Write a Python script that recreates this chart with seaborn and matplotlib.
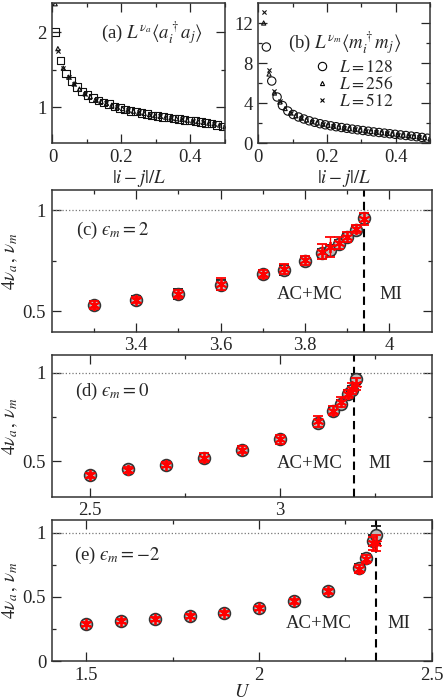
import numpy as np
import pandas as pd
import matplotlib
matplotlib.use('Agg')
import matplotlib.pyplot as plt
from matplotlib.lines import Line2D
import seaborn as sns

# ---- panel (a): L^nu_a <a_i^+ a_j> ----
xa_128 = [0.0078, 0.0234, 0.0391, 0.0547, 0.0703, 0.0859, 0.1016, 0.1172, 0.1328, 0.1484, 0.1641,
          0.1797, 0.1953, 0.2109, 0.2266, 0.2422, 0.2578, 0.2734, 0.2891, 0.3047, 0.3203, 0.3359,
          0.3516, 0.3672, 0.3828, 0.3984, 0.4141, 0.4297, 0.4453, 0.4609, 0.4766, 0.4922]
ya_128 = [2.00, 1.62, 1.45, 1.35, 1.27, 1.21, 1.16, 1.12, 1.09, 1.06, 1.04,
          1.01, 0.99, 0.97, 0.95, 0.94, 0.92, 0.91, 0.89, 0.88, 0.87, 0.86,
          0.85, 0.84, 0.83, 0.82, 0.81, 0.80, 0.79, 0.78, 0.76, 0.74]
xa_256 = [0.0078, 0.0156, 0.0313, 0.0469, 0.0625, 0.0781, 0.0938, 0.1094, 0.125, 0.1406, 0.1563,
          0.1719, 0.1875, 0.2031, 0.2188, 0.2344, 0.25, 0.2656, 0.2813, 0.2969, 0.3125, 0.3281,
          0.3438, 0.3594, 0.375, 0.3906, 0.4063, 0.4219, 0.4375, 0.4531, 0.4688, 0.4844, 0.5]
ya_256 = [2.38, 1.78, 1.52, 1.40, 1.31, 1.24, 1.18, 1.14, 1.10, 1.075, 1.05,
          1.025, 1.00, 0.98, 0.96, 0.945, 0.93, 0.915, 0.90, 0.885, 0.875, 0.865,
          0.855, 0.845, 0.835, 0.825, 0.815, 0.805, 0.795, 0.785, 0.775, 0.76, 0.74]
xa_512 = [0.0156, 0.0313, 0.0469, 0.0625, 0.0938, 0.125, 0.1563, 0.1875, 0.2188, 0.25, 0.2813,
          0.3125, 0.3438, 0.375, 0.4063, 0.4375, 0.4688, 0.5]
ya_512 = [1.75, 1.52, 1.40, 1.31, 1.18, 1.10, 1.05, 1.00, 0.96, 0.93, 0.90,
          0.875, 0.855, 0.835, 0.815, 0.795, 0.775, 0.74]

# ---- panel (b): L^nu_m <m_i^+ m_j> ----
xb_128 = xa_128[1:]
yb_128 = [9.6, 6.2, 4.6, 3.75, 3.2, 2.85, 2.6, 2.4, 2.22, 2.07,
          1.93, 1.82, 1.72, 1.63, 1.55, 1.47, 1.39, 1.32, 1.25, 1.18, 1.11,
          1.05, 0.99, 0.93, 0.87, 0.81, 0.75, 0.69, 0.63, 0.56, 0.48]
xb_256 = xa_256[1:]
yb_256 = [12.0, 6.9, 5.0, 4.1, 3.45, 3.0, 2.72, 2.5, 2.3, 2.15,
          2.0, 1.88, 1.77, 1.68, 1.59, 1.51, 1.43, 1.36, 1.29, 1.22, 1.15,
          1.08, 1.02, 0.96, 0.90, 0.84, 0.78, 0.72, 0.66, 0.60, 0.53, 0.45]
xb_512 = xa_512
yb_512 = [13.1, 7.3, 5.2, 4.2, 3.0, 2.5, 2.15, 1.88, 1.68, 1.51, 1.36,
          1.22, 1.08, 0.96, 0.84, 0.72, 0.60, 0.45]

# ---- panels (c)-(e): 4 nu_a (black circles) and nu_m (red) vs U ----
U_c = [3.3, 3.4, 3.5, 3.6, 3.7, 3.75, 3.8, 3.84, 3.86, 3.88, 3.9, 3.92, 3.94]
na_c = [0.530, 0.556, 0.586, 0.632, 0.683, 0.703, 0.748, 0.790, 0.805, 0.835, 0.868, 0.903, 0.962]
na_c_err = [0.02, 0.02, 0.025, 0.025, 0.02, 0.025, 0.02, 0.02, 0.025, 0.02, 0.02, 0.02, 0.02]
nm_c = [0.532, 0.558, 0.588, 0.635, 0.683, 0.708, 0.752, 0.796, 0.818, 0.838, 0.870, 0.906, 0.958]
nm_c_err = [0.02, 0.015, 0.02, 0.03, 0.02, 0.025, 0.02, 0.035, 0.05, 0.03, 0.025, 0.02, 0.03]

U_d = [2.5, 2.6, 2.7, 2.8, 2.9, 3.0, 3.1, 3.14, 3.16, 3.18, 3.19, 3.2]
na_d = [0.42, 0.455, 0.48, 0.52, 0.565, 0.625, 0.715, 0.785, 0.825, 0.88, 0.905, 0.965]
na_d_err = [0.015, 0.015, 0.015, 0.02, 0.02, 0.02, 0.02, 0.02, 0.02, 0.02, 0.02, 0.03]
nm_d = [0.42, 0.45, 0.48, 0.52, 0.565, 0.625, 0.725, 0.785, 0.835, 0.88, 0.91, 0.935]
nm_d_err = [0.015, 0.015, 0.015, 0.025, 0.02, 0.025, 0.03, 0.025, 0.03, 0.025, 0.03, 0.035]

U_e = [1.5, 1.6, 1.7, 1.8, 1.9, 2.0, 2.1, 2.2, 2.29, 2.31, 2.33, 2.34]
na_e = [0.292, 0.31, 0.33, 0.35, 0.376, 0.415, 0.465, 0.545, 0.725, 0.805, 0.94, 0.98]
na_e_err = [0.015, 0.015, 0.015, 0.015, 0.015, 0.015, 0.02, 0.02, 0.03, 0.03, 0.04, 0.07]
nm_e = [0.292, 0.31, 0.33, 0.35, 0.376, 0.415, 0.465, 0.545, 0.72, 0.795, 0.92, 0.92]
nm_e_err = [0.015, 0.015, 0.015, 0.015, 0.015, 0.015, 0.02, 0.02, 0.03, 0.03, 0.05, 0.06]

Uc_list = [3.94, 3.195, 2.34]
labels_low = ['(c) $\u03f5_m = 2$', '(d) $\u03f5_m = 0$', '(e) $\u03f5_m = -2$']

sns.set_style('ticks')
plt.rcParams['font.family'] = ['Liberation Serif', 'DejaVu Serif']
plt.rcParams['mathtext.fontset'] = 'stix'
plt.rcParams['font.size'] = 13.5

fig = plt.figure(figsize=(4.43, 7.0), dpi=100)


def style_axes(ax):
    ax.tick_params(which='both', direction='in', top=True, right=True, labelsize=13.5, pad=4)
    ax.tick_params(which='major', length=6.5, width=0.9)
    ax.tick_params(which='minor', length=3, width=0.9)
    for sp in ax.spines.values():
        sp.set_linewidth(1.1)
        sp.set_color('#333333')


def open_scatter(ax, x, y, marker, size, lw=0.8):
    sns.scatterplot(x=x, y=y, ax=ax, marker=marker, s=size, color='k', linewidth=lw, legend=False)
    coll = ax.collections[-1]
    if marker != 'x':
        coll.set_facecolor('none')
    coll.set_edgecolor('#111111')


# (a)
ax_a = fig.add_axes([0.1185, 0.7957, 0.3894, 0.2])
open_scatter(ax_a, xa_128, ya_128, 's', 30)
open_scatter(ax_a, xa_256, ya_256, '^', 9)
open_scatter(ax_a, xa_512, ya_512, 'x', 9)
ax_a.set_xlim(0, 0.5)
ax_a.set_ylim(0.52, 2.39)
ax_a.set_xticks([0, 0.2, 0.4])
ax_a.set_xticklabels(['0', '0.2', '0.4'])
ax_a.set_xticks([0.1, 0.3, 0.5], minor=True)
ax_a.set_yticks([1, 2])
ax_a.set_yticks([1.5], minor=True)
ax_a.set_xlabel(r'$|i - j|/L$', fontsize=13.5, labelpad=2)
ax_a.set_ylabel('')
ax_a.text(0.577, 0.786, r'(a) $L^{\nu_a}\langle a_i^\dagger a_j\rangle$', transform=ax_a.transAxes,
          ha='center', va='center', fontsize=13.5)
style_axes(ax_a)

# (b)
ax_b = fig.add_axes([0.5831, 0.7957, 0.3876, 0.2])
open_scatter(ax_b, xb_128, yb_128, 'o', 36)
open_scatter(ax_b, xb_256, yb_256, '^', 9)
open_scatter(ax_b, xb_512, yb_512, 'x', 9)
ax_b.set_xlim(0, 0.5)
ax_b.set_ylim(0, 14)
ax_b.set_xticks([0, 0.2, 0.4])
ax_b.set_xticklabels(['0', '0.2', '0.4'])
ax_b.set_xticks([0.1, 0.3, 0.5], minor=True)
ax_b.set_yticks([0, 4, 8, 12])
ax_b.set_yticks([2, 6, 10], minor=True)
ax_b.set_xlabel(r'$|i - j|/L$', fontsize=13.5, labelpad=2)
ax_b.set_ylabel('')
ax_b.text(0.505, 0.714, r'(b) $L^{\nu_m}\langle m_i^\dagger m_j\rangle$', transform=ax_b.transAxes,
          ha='center', va='center', fontsize=13.5)
handles = [
    Line2D([], [], ls='none', marker='o', ms=6, mfc='none', mec='k', mew=0.8),
    Line2D([], [], ls='none', marker='^', ms=3, mfc='none', mec='k', mew=0.8),
    Line2D([], [], ls='none', marker='x', ms=3, color='k', mew=0.8),
]
ax_b.legend(handles, [r'$L = 128$', r'$L = 256$', r'$L = 512$'], loc='upper left',
            bbox_to_anchor=(0.25, 0.655), frameon=False, fontsize=12.5, labelspacing=0.0,
            handletextpad=0.3, handlelength=1.4, borderpad=0)
style_axes(ax_b)

# (c)-(e)
low_rects = [[0.1167, 0.5261, 0.8578, 0.2024],
             [0.1167, 0.2904, 0.8578, 0.2024],
             [0.1167, 0.0557, 0.8578, 0.2014]]
low_data = [(U_c, na_c, na_c_err, nm_c, nm_c_err),
            (U_d, na_d, na_d_err, nm_d, nm_d_err),
            (U_e, na_e, na_e_err, nm_e, nm_e_err)]
xlims = [(3.2, 4.1), (2.4, 3.4), (1.4, 2.5)]
ylims = [(0.4, 1.1), (0.3, 1.1), (0, 1.1)]
xmaj = [[3.4, 3.6, 3.8, 4.0], [2.5, 3.0], [1.5, 2.0, 2.5]]
xmaj_lbl = [['3.4', '3.6', '3.8', '4'], ['2.5', '3'], ['1.5', '2', '2.5']]
xmin = [[3.3, 3.5, 3.7, 3.9], [2.75, 3.25], [1.75, 2.25]]
ymaj = [[0.5, 1.0], [0.5, 1.0], [0, 0.5, 1.0]]
ymaj_lbl = [['0.5', '1'], ['0.5', '1'], ['0', '0.5', '1']]
ymin = [[0.75], [0.75], [0.25, 0.75]]
acmc_pos = [(3.811, 0.584), (3.08, 0.487), (2.172, 0.29)]
mi_pos = [(4.004, 0.584), (3.263, 0.487), (2.406, 0.29)]
lbl_pos = [(0.064, 0.713), (0.061, 0.741), (0.059, 0.752)]

for i in range(3):
    ax = fig.add_axes(low_rects[i])
    U, na, na_err, nm, nm_err = low_data[i]
    ax.axhline(1.0, color='#777777', ls=':', lw=0.9, zorder=1)
    ax.axvline(Uc_list[i], color='k', ls='--', lw=1.5, dashes=(4, 2.5), zorder=2)
    ax.errorbar(U, na, yerr=na_err, ls='none', marker='o', ms=8.5, mfc='#bbbbbb', mec='#333333',
                mew=1.2, ecolor='k', elinewidth=1.0, capsize=3.5, capthick=1.0, zorder=3)
    ax.errorbar(U, nm, yerr=nm_err, ls='none', marker=(6, 2, 0), ms=8, color='red',
                mew=1.3, ecolor='red', elinewidth=1.0, capsize=3.5, capthick=1.0, zorder=4)
    ax.set_xlim(*xlims[i])
    ax.set_ylim(*ylims[i])
    ax.set_xticks(xmaj[i])
    ax.set_xticklabels(xmaj_lbl[i])
    ax.set_xticks(xmin[i], minor=True)
    ax.set_yticks(ymaj[i])
    ax.set_yticklabels(ymaj_lbl[i])
    ax.set_yticks(ymin[i], minor=True)
    ax.set_ylabel(r'$4\nu_a\,,\,\nu_m$', fontsize=13.5)
    ax.yaxis.set_label_coords(-0.083, 0.5)
    ax.text(*acmc_pos[i], 'AC+MC', ha='center', va='center', fontsize=13.5)
    ax.text(*mi_pos[i], 'MI', ha='center', va='center', fontsize=13.5)
    ax.text(*lbl_pos[i], labels_low[i], transform=ax.transAxes, ha='left', va='center',
            fontsize=13.5)
    style_axes(ax)
    if i == 2:
        ax.set_xlabel(r'$U$', fontsize=13.5, labelpad=0)

fig.savefig('out.png', dpi=100)
